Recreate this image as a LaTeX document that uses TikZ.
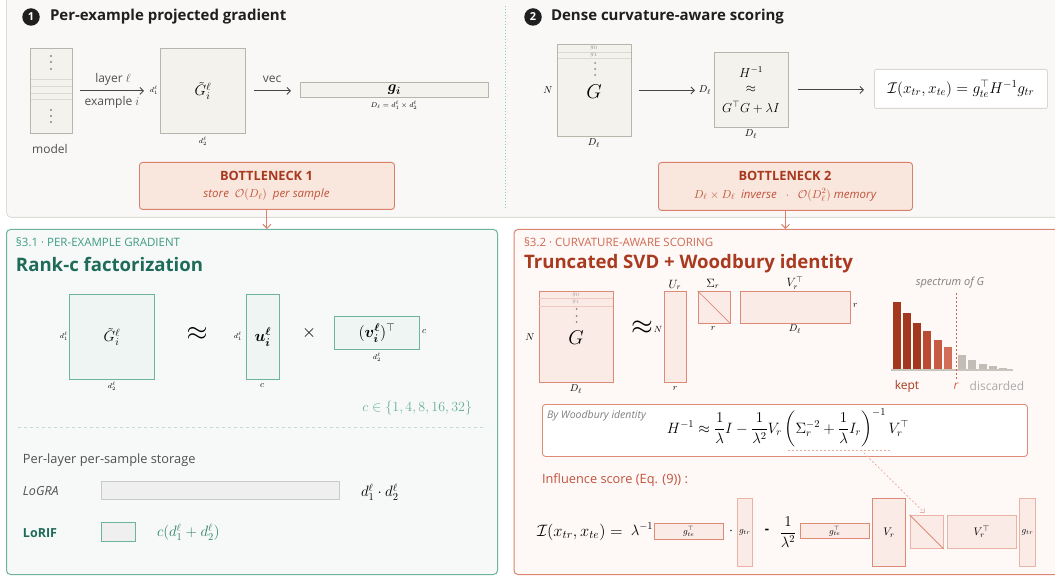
\RequirePackage{fix-cm}
\documentclass[tikz,border=0pt]{standalone}
\usepackage{amsmath,amssymb}
\usepackage{fontspec}
\setmainfont{Open Sans}
\usetikzlibrary{arrows.meta}
\definecolor{topfill}{HTML}{F9F8F6}
\definecolor{topborder}{HTML}{DEDCD7}
\definecolor{boxfill}{HTML}{F4F2EC}
\definecolor{boxgray}{HTML}{B8B5AD}
\definecolor{rowline}{HTML}{DDD9D0}
\definecolor{dotgray}{HTML}{8A8780}
\definecolor{txtgray}{HTML}{505050}
\definecolor{arrowgray}{HTML}{454545}
\definecolor{sepcol}{HTML}{8FCBBB}
\definecolor{bnfill}{HTML}{F9E6DD}
\definecolor{bnborder}{HTML}{D9806A}
\definecolor{bndark}{HTML}{A8391F}
\definecolor{bnsub}{HTML}{C0533A}
\definecolor{tealborder}{HTML}{6CB3A0}
\definecolor{tealpanel}{HTML}{F6F9F8}
\definecolor{tealbox}{HTML}{EEF5F2}
\definecolor{tealdark}{HTML}{1E6B58}
\definecolor{tealmid}{HTML}{3F9C84}
\definecolor{tealc}{HTML}{6AAE9A}
\definecolor{tealform}{HTML}{2E8068}
\definecolor{tealdashc}{HTML}{BFE0D6}
\definecolor{storefill}{HTML}{EFEFEF}
\definecolor{storeborder}{HTML}{C9C9C9}
\definecolor{redborder}{HTML}{DC8570}
\definecolor{redpanel}{HTML}{FEF8F7}
\definecolor{redbox}{HTML}{FBEBE7}
\definecolor{redboxborder}{HTML}{DD8A76}
\definecolor{redboxlight}{HTML}{E9B3A5}
\definecolor{redtitle}{HTML}{A93A20}
\definecolor{redlabel}{HTML}{D06A50}
\definecolor{redrowc}{HTML}{EDC9BF}
\definecolor{barA}{HTML}{A3381F}
\definecolor{barB}{HTML}{B94B33}
\definecolor{barC}{HTML}{C65A44}
\definecolor{barD}{HTML}{D26D58}
\definecolor{barG}{HTML}{C2BEB6}
\definecolor{baseG}{HTML}{C9C5BE}
\definecolor{dashred}{HTML}{D9604A}
\definecolor{pinkdash}{HTML}{E9AC9C}
\definecolor{discgray}{HTML}{ABABAB}
\definecolor{fboxborder}{HTML}{D9D7D2}
\newcommand{\fsz}[1]{\fontsize{#1}{#1}\selectfont}
\newcommand{\rrbox}[7]{\node[#1,anchor=north west,inner sep=0pt,minimum width={(#5)-(#3)},minimum height={(#6)-(#4)}] (#2) at (#3,#4) {#7};}
\begin{document}
\begin{tikzpicture}[x=1pt,y=-1pt,
  txt/.style={inner sep=0pt, outer sep=0pt},
  lbl/.style={txt, text=txtgray, font=\fsz{12}},
  dlab/.style={txt, font=\fsz{7}},
  graybox/.style={draw=boxgray, fill=boxfill, line width=0.9pt},
  toppanel/.style={draw=topborder, fill=topfill, rounded corners=5pt, line width=0.9pt},
  badge/.style={circle, fill=black!88, text=white, minimum size=17.5pt, inner sep=0pt, font=\bfseries\fsz{11}},
  ttl/.style={txt, anchor=west, font=\bfseries\fsz{15}, text=black!88},
  garrow/.style={draw=arrowgray, line width=0.9pt, -{Straight Barb[length=3.5pt,width=7pt]}},
  bneck/.style={draw=bnborder, fill=bnfill, rounded corners=3pt, line width=0.9pt},
  bnt/.style={txt, font=\bfseries\fsz{12.8}, text=bndark},
  bns/.style={txt, font=\itshape\fsz{11.5}, text=bnsub},
  bnarrow/.style={draw=bnborder, line width=1pt, -{Straight Barb[length=4pt,width=8pt]}},
  fboxst/.style={draw=fboxborder, fill=white, rounded corners=2pt, line width=0.9pt},
  tealpanelst/.style={draw=tealborder, fill=tealpanel, rounded corners=4pt, line width=1pt},
  tealboxst/.style={draw=tealborder, fill=tealbox, line width=0.9pt},
  storest/.style={draw=storeborder, fill=storefill, line width=0.9pt},
  lrst/.style={draw=tealborder, fill=storefill, line width=0.9pt},
  redpanelst/.style={draw=redborder, fill=redpanel, rounded corners=4pt, line width=1pt},
  redboxst/.style={draw=redboxborder, fill=redbox, line width=0.9pt},
  redlightst/.style={draw=redboxlight, fill=redbox, line width=0.9pt},
  wboxst/.style={draw=redboxborder, fill=white, rounded corners=3pt, line width=0.9pt},
  pinkline/.style={draw=pinkdash, line width=0.7pt, dash pattern=on 2pt off 2pt},
]
\useasboundingbox (0,0) rectangle (1055,577);
\clip (0,0) rectangle (1055,577);
\fill[white] (0,0) rectangle (1055,577);

% ================= top panel =================
\rrbox{toppanel}{top}{6}{-10}{1080}{217}{}
\draw[sepcol, line width=1pt, dash pattern=on 1pt off 2pt] (505,6) -- (505,208);

% ---- part 1
\node[badge] (bd1) at (31,17) {1};
\node[ttl] (t1) at (50,17) {Per-example projected gradient};

\rrbox{graybox}{model}{30}{48}{72}{133}{}
\foreach \yy in {79,86,93,99} \draw[rowline, line width=0.8pt] (30.5,\yy) -- (71.5,\yy);
\foreach \yy in {56,62,69,110,116,122} \fill[dotgray] (51,\yy) circle (1.1pt);
\node[lbl] (mlab) at (50,149) {model};

\rrbox{graybox}{Gt}{160}{48}{245}{133}{\fsz{15}$\tilde{G}_i^{\ell}$}
\draw[garrow, shorten <=7pt, shorten >=16pt] (model.east) -- (Gt.west);
\node[lbl] (lay) at (113,79) {layer $\ell$};
\node[lbl] (exi) at (112,102) {example $i$};
\node[dlab] (gd1) at (154,90) {$d_1^\ell$};
\node[dlab] (gd2) at (203,141) {$d_2^\ell$};

\rrbox{graybox}{gi}{300}{82}{488}{97}{\fsz{15}$\boldsymbol{g_i}$}
\draw[garrow, shorten <=8pt, shorten >=9pt] (Gt.east) -- (Gt.east -| gi.west);
\node[lbl] (vec) at (272,79) {vec};
\node[dlab] (gid) at (394,105) {$D_\ell = d_1^\ell \times d_2^\ell$};

\rrbox{bneck}{bn1}{139}{162}{394}{209}{}
\node[bnt] (bn1t) at (266.5,176) {BOTTLENECK 1};
\node[bns] (bn1s) at (266.5,195) {store\ \ $\mathcal{O}(D_\ell)$\ \ per sample};

% ---- part 2
\node[badge] (bd2) at (533,17) {2};
\node[ttl] (t2) at (551,17) {Dense curvature-aware scoring};

\rrbox{graybox}{Gm}{557}{44}{631}{136}{}
\draw[rowline, line width=0.8pt] (557.5,52) -- (630.5,52) (557.5,58) -- (630.5,58);
\node[txt, font=\fsz{6}, text=black!45] (g0a) at (594,48) {$g_0$};
\node[txt, font=\fsz{6}, text=black!45] (g1a) at (594,55) {$g_1$};
\foreach \yy in {63,69,75} \fill[dotgray] (595,\yy) circle (1pt);
\node[txt, font=\fsz{20}] (Gml) at (594,92) {$G$};
\node[txt, font=\fsz{10}] (Gmn) at (548,90) {$N$};
\node[txt, font=\fsz{10}] (Gmd) at (594,143) {$D_\ell$};

\rrbox{graybox}{Hb}{714}{52}{788}{127}{}
\node[txt, font=\fsz{13}] (h1) at (751,72) {$H^{-1}$};
\node[txt, font=\fsz{13}] (h2) at (751,89) {$\approx$};
\node[txt, font=\fsz{13}] (h3) at (751,107) {$G^{\top} G+\lambda I$};
\node[txt, font=\fsz{10}] (hd1) at (705,90) {$D_\ell$};
\node[txt, font=\fsz{10}] (hd2) at (751,134) {$D_\ell$};
\draw[garrow, shorten <=7pt, shorten >=19pt] (Gm.east) -- (Gm.east -| Hb.west);

\rrbox{fboxst}{fb}{874}{69}{1047}{108}{\fsz{15.5}$\mathcal{I}(x_{tr},x_{te}) = g_{te}^{\top} H^{-1} g_{tr}$}
\draw[garrow, shorten <=9pt, shorten >=10pt] (Hb.east) -- (Hb.east -| fb.west);

\rrbox{bneck}{bn2}{658}{162}{912}{210}{}
\node[bnt] (bn2t) at (785,176) {BOTTLENECK 2};
\node[bns] (bn2s) at (785,195) {$D_\ell\times D_\ell$\ \ inverse\ \ \ $\cdot$\ \ \ $\mathcal{O}(D_\ell^2)$ memory};

% ================= lower left panel =================
\rrbox{tealpanelst}{pL}{6}{229}{497}{574}{}
\node[txt, anchor=west, font=\fsz{11.5}, text=tealmid] (s31) at (16,242) {§3.1 · PER-EXAMPLE GRADIENT};
\node[txt, anchor=west, font=\bfseries\fsz{18.6}, text=tealdark] (rt) at (16,264) {Rank-c factorization};

\rrbox{tealboxst}{Gt2}{69}{294}{154}{379}{\fsz{15}$\tilde{G}_i^{\ell}$}
\node[dlab] (l1) at (64,336) {$d_1^\ell$};
\node[dlab] (l2) at (112,386) {$d_2^\ell$};
\node[txt, font=\fsz{27}] (apx) at (197,334) {$\approx$};
\rrbox{tealboxst}{ub}{246}{294}{279}{379}{\fsz{16}$\boldsymbol{u_i^{\ell}}$}
\node[dlab] (l3) at (238,336) {$d_1^\ell$};
\node[txt, font=\fsz{9}] (l4) at (262,386) {$c$};
\node[txt, font=\fsz{18}] (tms) at (309,333) {$\times$};
\rrbox{tealboxst}{vb}{334}{316}{419}{349}{\fsz{16}$(\boldsymbol{v_i^{\ell}})^{\top}$}
\node[txt, font=\fsz{9}, anchor=west] (l5) at (422,332) {$c$};
\node[dlab] (l6) at (377,357) {$d_2^\ell$};
\node[txt, anchor=east, font=\fsz{14}, text=tealc] (cset) at (472,408) {$c\in\{1,4,8,16,32\}$};
\draw[tealdashc, line width=0.8pt, dash pattern=on 3pt off 3pt] (18,427) -- (484,427);

\node[txt, anchor=west, font=\fsz{12.8}, text=txtgray] (pls) at (23,460) {Per-layer per-sample storage};
\node[txt, anchor=west, font=\itshape\fsz{12.5}, text=txtgray] (logra) at (23,491) {LoGRA};
\rrbox{storest}{lgb}{101}{481}{339}{499}{}
\node[txt, anchor=west, font=\fsz{15}] (lgf) at (361,492) {$d_1^\ell\cdot d_2^\ell$};
\node[txt, anchor=west, font=\bfseries\fsz{12.5}, text=tealdark] (lorif) at (23,533) {LoRIF};
\rrbox{lrst}{lrb}{101}{522}{135}{541}{}
\node[txt, anchor=west, font=\fsz{15}, text=tealform] (lrf) at (157,532) {$c(d_1^\ell+d_2^\ell)$};

% ================= lower right panel =================
\rrbox{redpanelst}{pR}{513.5}{229}{1080}{574}{}
\node[txt, anchor=west, font=\fsz{11.5}, text=redlabel] (s32) at (524,242) {§3.2 · CURVATURE-AWARE SCORING};
\node[txt, anchor=west, font=\bfseries\fsz{18.6}, text=redtitle] (tt) at (524,264) {Truncated SVD + Woodbury identity};

\rrbox{redboxst}{Gr}{538.5}{291}{613}{382}{}
\draw[redrowc, line width=0.8pt] (539,298) -- (612.5,298) (539,306) -- (612.5,306);
\node[txt, font=\fsz{6}, text=black!40] (g0b) at (576,294.5) {$g_0$};
\node[txt, font=\fsz{6}, text=black!40] (g1b) at (576,302) {$g_1$};
\foreach \yy in {309,316,322} \fill[dotgray] (576.7,\yy) circle (1pt);
\node[txt, font=\fsz{20}] (Grl) at (576,338) {$G$};
\node[txt, font=\fsz{10}] (Grn) at (530,337) {$N$};
\node[txt, font=\fsz{10}] (Grd) at (576,389) {$D_\ell$};

\node[txt, font=\fsz{28}] (apx2) at (642,328) {$\approx$};
\node[txt, font=\fsz{9}] (Un) at (658,329) {$N$};
\rrbox{redboxst}{Ur}{663.6}{291}{686}{382}{}
\node[txt, font=\fsz{12}] (Url) at (675,285) {$U_r$};
\node[txt, font=\fsz{9}] (Urr) at (675,389) {$r$};
\rrbox{redboxst}{Sr}{697.7}{291}{730}{323}{}
\draw[redboxborder, line width=0.7pt] (Sr.north west) -- (Sr.south east);
\node[txt, font=\fsz{12}] (Srl) at (713,284) {$\Sigma_r$};
\node[txt, font=\fsz{9}] (Srr) at (713,329) {$r$};
\rrbox{redboxst}{Vt}{740}{291}{850}{323}{}
\node[txt, font=\fsz{12}] (Vtl) at (795,283) {$V_r^{\top}$};
\node[txt, font=\fsz{9}, anchor=west] (Vtr) at (853,306) {$r$};
\node[txt, font=\fsz{10}] (Vtd) at (795,329) {$D_\ell$};

% spectrum
\node[txt, font=\itshape\fsz{11}, text=black!50] (spec) at (950,283) {spectrum of G};
\foreach \xa/\tp/\cc in {893/302/barA, 903/313/barA, 913/323/barA, 923/331/barB, 934/340/barC, 944/347/barD, 958/355/barG, 968/360/barG, 979/364/barG, 989/366/barG, 999/367.5/barG}
  \fill[\cc] (\xa,\tp) rectangle (\xa+8,369);
\draw[baseG, line width=1.6pt] (891,369.7) -- (1013,369.7);
\draw[dashred, line width=0.8pt, dash pattern=on 2pt off 2pt] (956,293) -- (956,380);
\node[txt, font=\fsz{12}, text=bndark] (kept) at (907,386) {kept};
\node[txt, font=\itshape\fsz{12}, text=dashred] (rlab) at (956,386) {r};
\node[txt, font=\fsz{12}, text=discgray] (disc) at (997,386) {discarded};

% woodbury
\rrbox{wboxst}{wb}{542}{404}{1027}{456}{}
\node[txt, anchor=west, font=\itshape\fsz{10.5}, text=black!50] (wbl) at (547,416) {By Woodbury identity};
\node[txt, font=\fsz{15}] (wf) at (788,428) {$H^{-1}\approx\dfrac{1}{\lambda}I-\dfrac{1}{\lambda^2}V_r\left(\Sigma_r^{-2}+\dfrac{1}{\lambda}I_r\right)^{-1}V_r^{\top}$};
\coordinate (ulA) at (788,450);
\coordinate (ulB) at (892,450);
\coordinate (ulM) at (861,450);
\draw[pinkline] (ulA) -- (ulB);

% influence
\node[txt, anchor=west, font=\fsz{12.8}, text=bnsub] (infl) at (542,480) {Influence score (Eq. (9)) :};
\node[txt, anchor=west, font=\fsz{16.5}] (ieq) at (537,532) {$\mathcal{I}(x_{tr},x_{te}) =$};
\node[txt, font=\fsz{15}] (lam) at (642,529) {$\lambda^{-1}$};
\rrbox{redboxst}{gte1}{654}{523}{722.7}{539}{\fsz{9}$g_{te}^{\top}$}
\node[txt, font=\fsz{14}] (dot1) at (731,531) {$\cdot$};
\rrbox{redlightst}{gtr1}{736.6}{498}{752}{566}{\fsz{9}$g_{tr}$}
\node[txt, font=\bfseries\fsz{13}] (mns) at (767,531) {-};
\node[txt, font=\fsz{15}] (fr) at (788,532) {$\dfrac{1}{\lambda^2}$};
\rrbox{redboxst}{gte2}{800}{523}{868.7}{538}{\fsz{9}$g_{te}^{\top}$}
\rrbox{redboxst}{Vr2}{872}{498}{905}{566}{\fsz{11}$V_r$}
\rrbox{redlightst}{sigb}{909.7}{515}{942.7}{548}{}
\draw[redboxborder, line width=0.8pt] (sigb.north west) -- (sigb.south east);
\rrbox{redlightst}{Vt2}{947}{515}{1015.7}{548}{\fsz{11}$V_r^{\top}$}
\rrbox{redlightst}{gtr2}{1019}{498}{1035}{566}{\fsz{9}$g_{tr}$}
\draw[pinkline, -{Straight Barb[length=3pt,width=6pt]}, shorten >=3pt] (ulM) -- (sigb.north);

% ================= connectors =================
\draw[bnarrow] (bn1.south) -- (bn1.south |- pL.north);
\draw[bnarrow] (bn2.south) -- (bn2.south |- pR.north);
\end{tikzpicture}
\end{document}
